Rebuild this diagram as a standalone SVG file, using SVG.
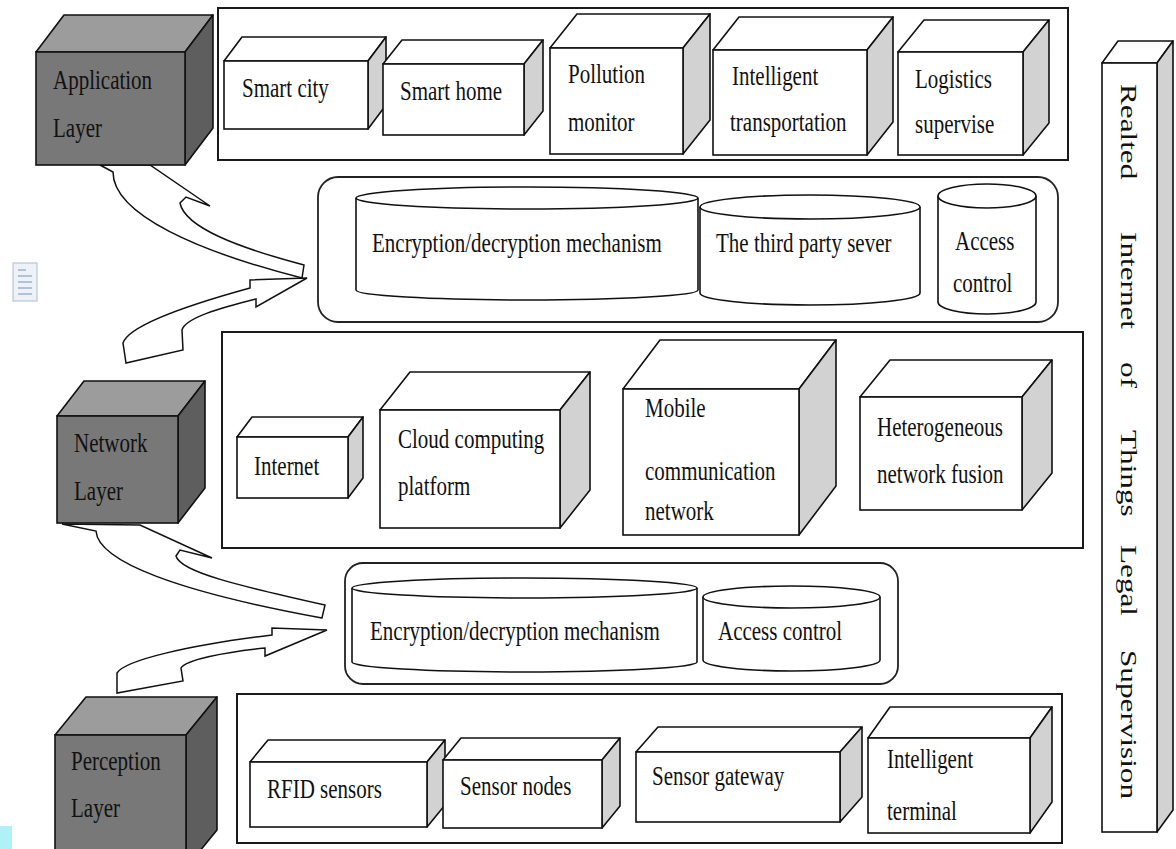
<svg xmlns="http://www.w3.org/2000/svg" width="1176" height="849" viewBox="0 0 1176 849">
<style>
.bg{fill:#ffffff}
.frame{fill:#ffffff;stroke:#1a1a1a;stroke-width:2}
.rr{fill:#ffffff;stroke:#222;stroke-width:1.8}
.front{fill:#ffffff;stroke:#111;stroke-width:1.6}
.top{fill:#ffffff;stroke:#111;stroke-width:1.6;stroke-linejoin:round}
.side{fill:#d2d2d2;stroke:#111;stroke-width:1.6;stroke-linejoin:round}
.lfront{fill:#787878;stroke:#111;stroke-width:1.6}
.ltop{fill:#9c9c9c;stroke:#111;stroke-width:1.6;stroke-linejoin:round}
.lside{fill:#5e5e5e;stroke:#111;stroke-width:1.6;stroke-linejoin:round}
.cyl{fill:#ffffff;stroke:#111;stroke-width:1.6}
.arrow{fill:#ffffff;stroke:#111;stroke-width:1.5;stroke-linejoin:miter}
.t{font-family:"Liberation Serif","Times New Roman",serif;font-size:21px;fill:#111}
.v{font-family:"Liberation Serif","Times New Roman",serif;font-size:24px;fill:#111}
</style>
<rect class="bg" x="0" y="0" width="1176" height="849"/>

<!-- artifacts -->
<g id="doc-icon">
<rect x="13" y="263" width="24" height="38" fill="#eef2f8" stroke="#b9c4d6" stroke-width="1.2"/>
<path d="M18 270h8M18 276h14M18 282h14M18 288h14M18 294h14" stroke="#9fb1cc" stroke-width="1.3"/>
</g>
<rect id="cyan-mark" x="0" y="826" width="12" height="23" fill="#aef2f8"/>

<!-- connectors -->
<g id="connectors">
<path class="arrow" d="M100,165 L113,172 C113,215 200,252 302,278 L304,265 C240,248 185,228 180,203 L186,197 L210,206 L150,165 Z"/>
<path class="arrow" d="M126,363 L123,343 C128,328 170,310 250,288 L250,280 L307,278 L256,307 L256,299 C220,308 185,318 182,330 L183,350 Z"/>
<path class="arrow" d="M62,524 L96,531 C98,562 180,592 322,618 L325,605 C240,586 180,572 176,556 L180,550 L212,558 L140,525 Z"/>
<path class="arrow" d="M117,693 L117,673 C125,660 190,645 272,635 L272,628 L327,630 L265,656 L265,648 C225,652 185,660 181,668 L183,681 Z"/>
</g>

<!-- Application layer -->
<g id="app-layer">
<path class="ltop" d="M36,52 L64,15 L213,15 L185,52 Z"/>
<path class="lside" d="M185,52 L213,15 L213,128 L185,165 Z"/>
<rect class="lfront" x="36" y="52" width="149" height="113"/>
<text class="t" transform="matrix(1 0 0 1.3 53 89)">Application</text>
<text class="t" transform="matrix(1 0 0 1.3 53 137)">Layer</text>
</g>

<g id="app-frame">
<rect class="frame" x="218" y="8" width="850" height="152"/>
</g>

<g id="smart-city">
<path class="top" d="M224,61 L242,37 L386,37 L368,61 Z"/>
<path class="side" d="M368,61 L386,37 L386,105 L368,129 Z"/>
<rect class="front" x="224" y="61" width="144" height="68"/>
<text class="t" transform="matrix(1 0 0 1.3 242 97)">Smart city</text>
</g>

<g id="smart-home">
<path class="top" d="M383,64 L402,40 L543,40 L524,64 Z"/>
<path class="side" d="M524,64 L543,40 L543,111 L524,135 Z"/>
<rect class="front" x="383" y="64" width="141" height="71"/>
<text class="t" transform="matrix(1 0 0 1.3 400 100)">Smart home</text>
</g>

<g id="pollution-monitor">
<path class="top" d="M550,48 L577,14 L710,14 L683,48 Z"/>
<path class="side" d="M683,48 L710,14 L710,120 L683,154 Z"/>
<rect class="front" x="550" y="48" width="133" height="106"/>
<text class="t" transform="matrix(1 0 0 1.3 568 83)">Pollution</text>
<text class="t" transform="matrix(1 0 0 1.3 568 131)">monitor</text>
</g>

<g id="intelligent-transportation">
<path class="top" d="M713,50 L739,17 L893,17 L867,50 Z"/>
<path class="side" d="M867,50 L893,17 L893,122 L867,155 Z"/>
<rect class="front" x="713" y="50" width="154" height="105"/>
<text class="t" transform="matrix(1 0 0 1.3 732 85)">Intelligent</text>
<text class="t" transform="matrix(1 0 0 1.3 730 131)">transportation</text>
</g>

<g id="logistics-supervise">
<path class="top" d="M898,52 L924,20 L1049,20 L1023,52 Z"/>
<path class="side" d="M1023,52 L1049,20 L1049,123 L1023,155 Z"/>
<rect class="front" x="898" y="52" width="125" height="103"/>
<text class="t" transform="matrix(1 0 0 1.3 915 88)">Logistics</text>
<text class="t" transform="matrix(1 0 0 1.3 915 133)">supervise</text>
</g>

<!-- Upper security -->
<g id="upper-security">
<rect class="rr" x="318" y="177" width="740" height="145" rx="20" ry="20"/>
</g>
<g id="upper-encryption">
<path class="cyl" d="M356,198 L356,290 A171,10 0 0 0 698,290 L698,198"/>
<ellipse class="cyl" cx="527" cy="198" rx="171" ry="11"/>
<text class="t" transform="matrix(1 0 0 1.3 372 252)">Encryption/decryption mechanism</text>
</g>
<g id="third-party-server">
<path class="cyl" d="M700,207 L700,293 A110,12 0 0 0 920,293 L920,207"/>
<ellipse class="cyl" cx="810" cy="207" rx="110" ry="12"/>
<text class="t" transform="matrix(1 0 0 1.3 716 252)">The third party sever</text>
</g>
<g id="upper-access-control">
<path class="cyl" d="M938,196 L938,302 A49,12 0 0 0 1036,302 L1036,196"/>
<ellipse class="cyl" cx="987" cy="196" rx="49" ry="12"/>
<text class="t" transform="matrix(1 0 0 1.3 955 250)">Access</text>
<text class="t" transform="matrix(1 0 0 1.3 953 292)">control</text>
</g>

<!-- Network layer -->
<g id="network-layer">
<path class="ltop" d="M57,416 L84,381 L205,381 L178,416 Z"/>
<path class="lside" d="M178,416 L205,381 L205,488 L178,523 Z"/>
<rect class="lfront" x="57" y="416" width="121" height="107"/>
<text class="t" transform="matrix(1 0 0 1.3 74 452)">Network</text>
<text class="t" transform="matrix(1 0 0 1.3 74 500)">Layer</text>
</g>

<g id="network-frame">
<rect class="frame" x="222" y="332" width="861" height="216"/>
</g>

<g id="internet">
<path class="top" d="M237,437 L252,417 L363,417 L348,437 Z"/>
<path class="side" d="M348,437 L363,417 L363,478 L348,498 Z"/>
<rect class="front" x="237" y="437" width="111" height="61"/>
<text class="t" transform="matrix(1 0 0 1.3 254 475)">Internet</text>
</g>

<g id="cloud-computing">
<path class="top" d="M380,410 L410,372 L590,372 L560,410 Z"/>
<path class="side" d="M560,410 L590,372 L590,490 L560,528 Z"/>
<rect class="front" x="380" y="410" width="180" height="118"/>
<text class="t" transform="matrix(1 0 0 1.3 398 448)">Cloud computing</text>
<text class="t" transform="matrix(1 0 0 1.3 398 495)">platform</text>
</g>

<g id="mobile-communication">
<path class="top" d="M623,389 L660,340 L836,340 L799,389 Z"/>
<path class="side" d="M799,389 L836,340 L836,486 L799,535 Z"/>
<rect class="front" x="623" y="389" width="176" height="146"/>
<text class="t" transform="matrix(1 0 0 1.3 645 417)">Mobile</text>
<text class="t" transform="matrix(1 0 0 1.3 645 480)">communication</text>
<text class="t" transform="matrix(1 0 0 1.3 645 520)">network</text>
</g>

<g id="heterogeneous-fusion">
<path class="top" d="M860,397 L890,360 L1052,360 L1022,397 Z"/>
<path class="side" d="M1022,397 L1052,360 L1052,473 L1022,510 Z"/>
<rect class="front" x="860" y="397" width="162" height="113"/>
<text class="t" transform="matrix(1 0 0 1.3 877 436)">Heterogeneous</text>
<text class="t" transform="matrix(1 0 0 1.3 877 483)">network fusion</text>
</g>

<!-- Lower security -->
<g id="lower-security">
<rect class="rr" x="345" y="563" width="553" height="121" rx="18" ry="18"/>
</g>
<g id="lower-encryption">
<path class="cyl" d="M352,588 L352,662 A172.5,10 0 0 0 697,662 L697,588"/>
<ellipse class="cyl" cx="524.5" cy="588" rx="172.5" ry="10"/>
<text class="t" transform="matrix(1 0 0 1.3 370 640)">Encryption/decryption mechanism</text>
</g>
<g id="lower-access-control">
<path class="cyl" d="M703,597 L703,660 A88.5,11 0 0 0 880,660 L880,597"/>
<ellipse class="cyl" cx="791.5" cy="597" rx="88.5" ry="11"/>
<text class="t" transform="matrix(1 0 0 1.3 718 640)">Access control</text>
</g>

<!-- Perception layer -->
<g id="perception-layer">
<path class="ltop" d="M55,735 L86,697 L217,697 L186,735 Z"/>
<path class="lside" d="M186,735 L217,697 L217,830 L186,868 Z"/>
<rect class="lfront" x="55" y="735" width="131" height="130"/>
<text class="t" transform="matrix(1 0 0 1.3 71 770)">Perception</text>
<text class="t" transform="matrix(1 0 0 1.3 71 817)">Layer</text>
</g>

<g id="perception-frame">
<rect class="frame" x="237" y="694" width="825" height="149"/>
</g>

<g id="rfid-sensors">
<path class="top" d="M250,762 L268,740 L445,740 L427,762 Z"/>
<path class="side" d="M427,762 L445,740 L445,805 L427,827 Z"/>
<rect class="front" x="250" y="762" width="177" height="65"/>
<text class="t" transform="matrix(1 0 0 1.3 267 798)">RFID sensors</text>
</g>

<g id="sensor-nodes">
<path class="top" d="M443,760 L461,738 L620,738 L602,760 Z"/>
<path class="side" d="M602,760 L620,738 L620,806 L602,828 Z"/>
<rect class="front" x="443" y="760" width="159" height="68"/>
<text class="t" transform="matrix(1 0 0 1.3 460 795)">Sensor nodes</text>
</g>

<g id="sensor-gateway">
<path class="top" d="M636,752 L658,727 L862,727 L840,752 Z"/>
<path class="side" d="M840,752 L862,727 L862,797 L840,822 Z"/>
<rect class="front" x="636" y="752" width="204" height="70"/>
<text class="t" transform="matrix(1 0 0 1.3 652 785)">Sensor gateway</text>
</g>

<g id="intelligent-terminal">
<path class="top" d="M868,738 L890,707 L1052,707 L1030,738 Z"/>
<path class="side" d="M1030,738 L1052,707 L1052,802 L1030,833 Z"/>
<rect class="front" x="868" y="738" width="162" height="95"/>
<text class="t" transform="matrix(1 0 0 1.3 887 768)">Intelligent</text>
<text class="t" transform="matrix(1 0 0 1.3 887 820)">terminal</text>
</g>

<!-- Right vertical bar -->
<g id="legal-supervision">
<path class="top" d="M1102,63 L1118,41 L1173,41 L1157,63 Z"/>
<path class="side" d="M1157,63 L1173,41 L1173,810 L1157,832 Z"/>
<rect class="front" x="1102" y="63" width="55" height="769"/>
<text class="v" transform="translate(1121,84) rotate(90) scale(1.3,1)">Realted</text>
<text class="v" transform="translate(1121,232) rotate(90) scale(1.3,1)">Internet</text>
<text class="v" transform="translate(1121,362) rotate(90) scale(1.3,1)">of</text>
<text class="v" transform="translate(1121,430) rotate(90) scale(1.3,1)">Things</text>
<text class="v" transform="translate(1121,545) rotate(90) scale(1.3,1)">Legal</text>
<text class="v" transform="translate(1121,650) rotate(90) scale(1.3,1)">Supervision</text>
</g>
</svg>
